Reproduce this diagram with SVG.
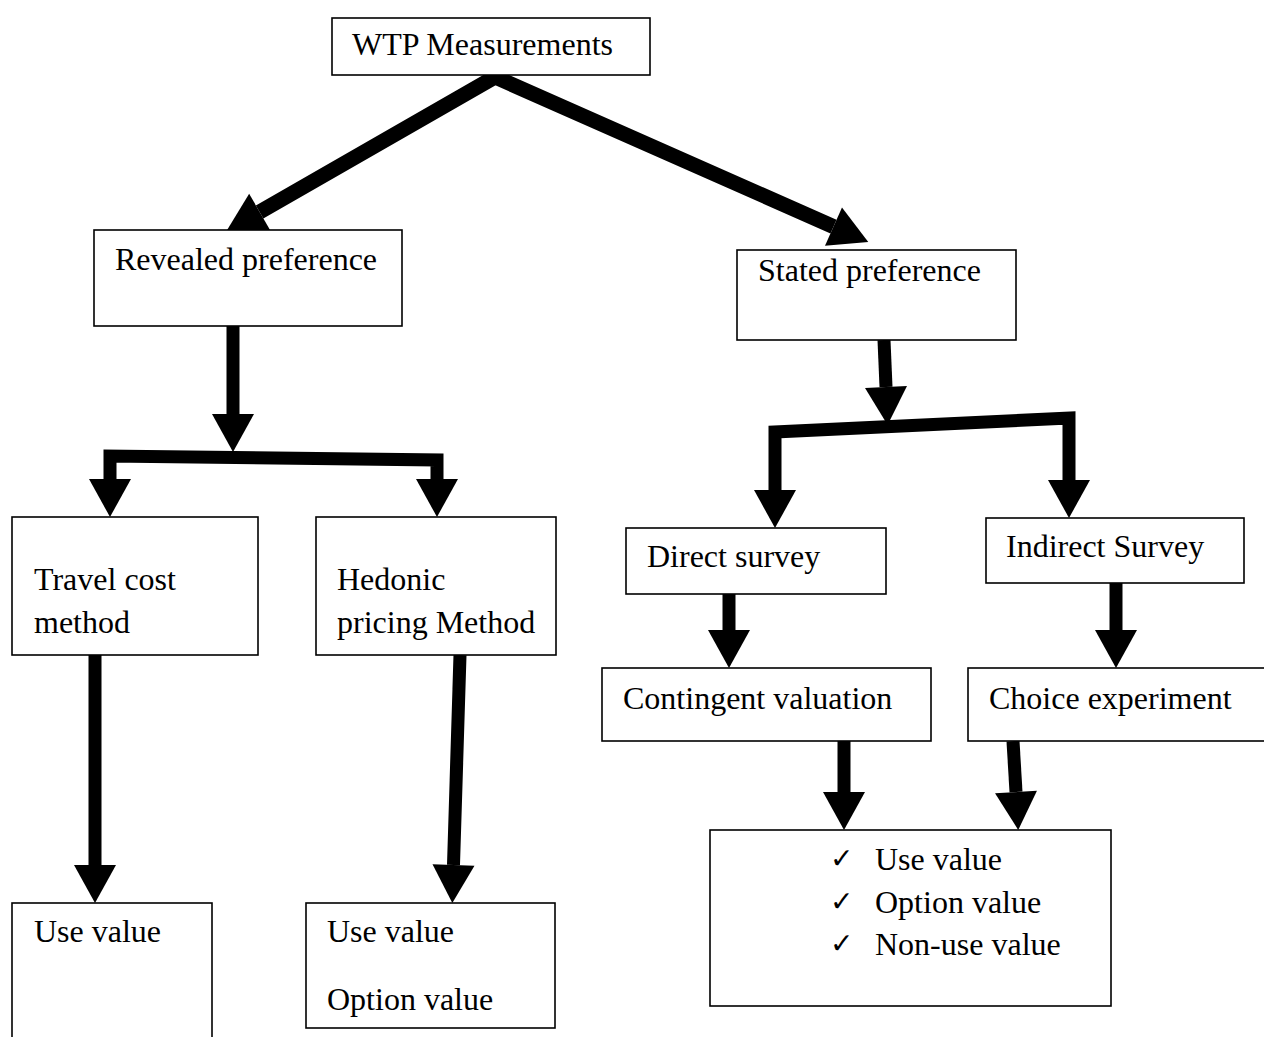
<svg xmlns="http://www.w3.org/2000/svg" width="1264" height="1037" viewBox="0 0 1264 1037">
<defs>
<style>
.box{fill:#fff;stroke:#000;stroke-width:1.6}
.t{font-family:"Liberation Serif","Times New Roman",serif;font-size:32px;fill:#000}
.ck{font-family:"DejaVu Sans",sans-serif;font-size:28px;fill:#000}
.c{fill:none;stroke:#000;stroke-width:13;stroke-linejoin:miter}
.d{fill:none;stroke:#000;stroke-width:15;stroke-linejoin:miter}
</style>
<marker id="ah" markerUnits="userSpaceOnUse" markerWidth="40" markerHeight="44" refX="0" refY="21" orient="auto-start-reverse" overflow="visible">
<path d="M0,0 L38,21 L0,42 Z" fill="#000"/>
</marker>
</defs>
<rect width="1264" height="1037" fill="#fff"/>
<g id="connectors">
<polyline class="d" points="259.6,211.9 495,77 833.5,226.6" marker-start="url(#ah)" marker-end="url(#ah)"/>
<line class="c" x1="233" y1="326" x2="233" y2="414" marker-end="url(#ah)"/>
<polyline class="c" points="110,479 110,456 437,460 437,479" marker-start="url(#ah)" marker-end="url(#ah)"/>
<line class="c" x1="884" y1="340" x2="886" y2="387" marker-end="url(#ah)"/>
<polyline class="c" points="775,490 775,432 1069,418 1069,480" marker-start="url(#ah)" marker-end="url(#ah)"/>
<line class="c" x1="95" y1="655" x2="95" y2="865" marker-end="url(#ah)"/>
<line class="c" x1="460" y1="655" x2="453.5" y2="865" marker-end="url(#ah)"/>
<line class="c" x1="729" y1="594" x2="729" y2="630" marker-end="url(#ah)"/>
<line class="c" x1="1116" y1="583" x2="1116" y2="630" marker-end="url(#ah)"/>
<line class="c" x1="844" y1="741" x2="844" y2="792" marker-end="url(#ah)"/>
<line class="c" x1="1013" y1="741" x2="1016" y2="792" marker-end="url(#ah)"/>
</g>
<g id="wtp"><rect class="box" x="332" y="18" width="318" height="57"/><text class="t" x="352" y="55">WTP Measurements</text></g>
<g id="revealed"><rect class="box" x="94" y="230" width="308" height="96"/><text class="t" x="115" y="270">Revealed preference</text></g>
<g id="stated"><rect class="box" x="737" y="250" width="279" height="90"/><text class="t" x="758" y="281">Stated preference</text></g>
<g id="travel"><rect class="box" x="12" y="517" width="246" height="138"/><text class="t" x="34" y="590">Travel cost</text><text class="t" x="34" y="633">method</text></g>
<g id="hedonic"><rect class="box" x="316" y="517" width="240" height="138"/><text class="t" x="337" y="590">Hedonic</text><text class="t" x="337" y="633">pricing Method</text></g>
<g id="direct"><rect class="box" x="626" y="528" width="260" height="66"/><text class="t" x="647" y="567">Direct survey</text></g>
<g id="indirect"><rect class="box" x="986" y="518" width="258" height="65"/><text class="t" x="1006" y="557">Indirect Survey</text></g>
<g id="contingent"><rect class="box" x="602" y="668" width="329" height="73"/><text class="t" x="623" y="709">Contingent valuation</text></g>
<g id="choice"><rect class="box" x="968" y="668" width="300" height="73"/><text class="t" x="989" y="709">Choice experiment</text></g>
<g id="use1"><rect class="box" x="12" y="903" width="200" height="140"/><text class="t" x="34" y="942">Use value</text></g>
<g id="use2"><rect class="box" x="306" y="903" width="249" height="125"/><text class="t" x="327" y="942">Use value</text><text class="t" x="327" y="1010">Option value</text></g>
<g id="values"><rect class="box" x="710" y="830" width="401" height="176"/>
<text class="ck" x="830" y="868">✓</text><text class="t" x="875" y="870">Use value</text>
<text class="ck" x="830" y="911">✓</text><text class="t" x="875" y="913">Option value</text>
<text class="ck" x="830" y="953">✓</text><text class="t" x="875" y="955">Non-use value</text>
</g>
</svg>
